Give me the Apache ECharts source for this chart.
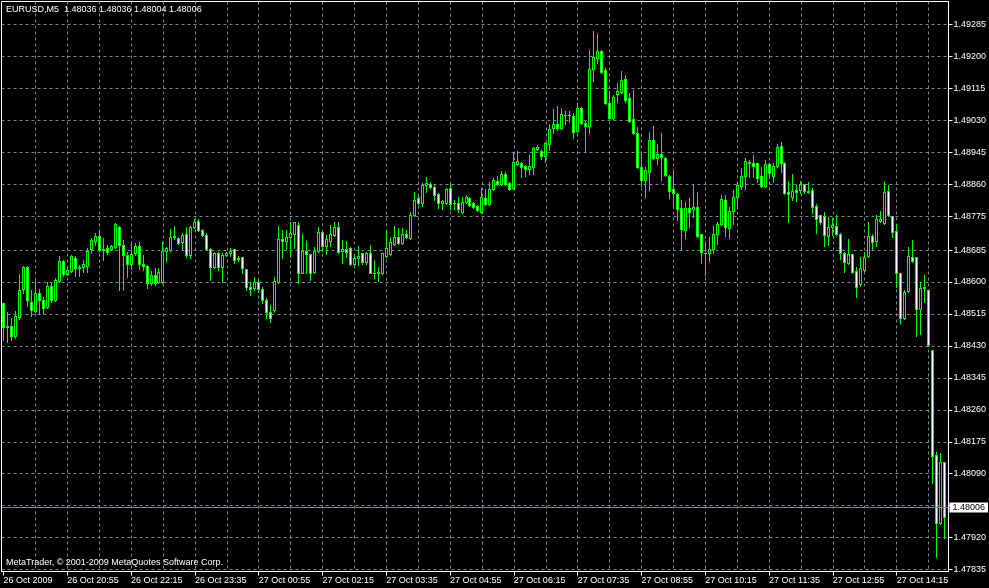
<!DOCTYPE html>
<html><head><meta charset="utf-8">
<script src="https://cdn.jsdelivr.net/npm/echarts@6/dist/echarts.min.js"></script>
<style>html,body{margin:0;padding:0;background:#000;}#c{width:989px;height:588px;}</style>
</head><body><div id="c"></div>
<script>
const symbolName = 'EURUSD,M5';
const lastBar = [1.48036, 1.48036, 1.48004, 1.48006]; // O H L C of current bar
const copyright = 'MetaTrader, \u00A9 2001-2009 MetaQuotes Software Corp.';
// time labels, one every 16 bars (5-minute bars from 26 Oct 2009 19:35)
const xTickLabels = ['26 Oct 2009','26 Oct 20:55','26 Oct 22:15','26 Oct 23:35','27 Oct 00:55','27 Oct 02:15','27 Oct 03:35','27 Oct 04:55','27 Oct 06:15','27 Oct 07:35','27 Oct 08:55','27 Oct 10:15','27 Oct 11:35','27 Oct 12:55','27 Oct 14:15'];
const yTickLabels = [1.47835,1.47920,1.48090,1.48175,1.48260,1.48345,1.48430,1.48515,1.48600,1.48685,1.48775,1.48860,1.48945,1.49030,1.49115,1.49200,1.49285];
const yGridValues = [1.47835,1.47920,1.48006,1.48090,1.48175,1.48260,1.48345,1.48430,1.48515,1.48600,1.48685,1.48775,1.48860,1.48945,1.49030,1.49115,1.49200,1.49285];

const opens = [1.48543,1.48482,1.48482,1.48455,1.48506,1.48580,1.48639,1.48545,1.48522,1.48569,
1.48551,1.48532,1.48588,1.48551,1.48601,1.48655,1.48620,1.48628,1.48663,1.48636,
1.48639,1.48641,1.48686,1.48708,1.48721,1.48684,1.48689,1.48686,1.48692,1.48745,
1.48697,1.48670,1.48647,1.48676,1.48694,1.48647,1.48641,1.48596,1.48617,1.48599,
1.48599,1.48681,1.48684,1.48718,1.48716,1.48705,1.48726,1.48670,1.48745,1.48761,
1.48737,1.48724,1.48686,1.48639,1.48676,1.48639,1.48670,1.48676,1.48686,1.48660,
1.48665,1.48633,1.48585,1.48583,1.48599,1.48580,1.48551,1.48519,1.48524,1.48599,
1.48713,1.48708,1.48718,1.48726,1.48750,1.48623,1.48681,1.48673,1.48625,1.48681,
1.48732,1.48694,1.48708,1.48724,1.48745,1.48681,1.48686,1.48689,1.48647,1.48663,
1.48676,1.48652,1.48676,1.48623,1.48623,1.48623,1.48668,1.48673,1.48700,1.48718,
1.48702,1.48726,1.48716,1.48777,1.48822,1.48809,1.48857,1.48859,1.48851,1.48833,
1.48809,1.48809,1.48849,1.48809,1.48809,1.48785,1.48811,1.48822,1.48809,1.48801,
1.48785,1.48822,1.48806,1.48846,1.48867,1.48859,1.48886,1.48862,1.48849,1.48913,
1.48915,1.48907,1.48899,1.48905,1.48952,1.48947,1.48934,1.48966,1.49008,1.49019,
1.49008,1.49043,1.49043,1.49040,1.49000,1.49062,1.49022,1.49014,1.49165,1.49195,
1.49213,1.49163,1.49075,1.49035,1.49099,1.49104,1.49139,1.49088,1.49032,1.48995,
1.48905,1.48870,1.48891,1.48976,1.48929,1.48939,1.48929,1.48881,1.48846,1.48833,
1.48796,1.48737,1.48796,1.48793,1.48798,1.48726,1.48676,1.48676,1.48686,1.48726,
1.48753,1.48817,1.48742,1.48788,1.48825,1.48854,1.48881,1.48918,1.48915,1.48915,
1.48881,1.48854,1.48913,1.48881,1.48907,1.48960,1.48915,1.48838,1.48825,1.48843,
1.48843,1.48859,1.48841,1.48843,1.48801,1.48777,1.48774,1.48721,1.48745,1.48748,
1.48726,1.48676,1.48649,1.48673,1.48628,1.48593,1.48631,1.48668,1.48721,1.48708,
1.48761,1.48756,1.48841,1.48774,1.48734,1.48623,1.48503,1.48575,1.48665,1.48665,
1.48527,1.48583,1.48577,1.48418,1.48138,1.47958,1.48120];

const highs = [1.48543,1.48519,1.48503,1.48522,1.48620,1.48641,1.48641,1.48577,1.48601,1.48580,
1.48559,1.48599,1.48596,1.48609,1.48668,1.48657,1.48636,1.48670,1.48668,1.48644,
1.48657,1.48689,1.48716,1.48729,1.48737,1.48716,1.48697,1.48697,1.48756,1.48748,
1.48710,1.48678,1.48705,1.48702,1.48705,1.48670,1.48644,1.48628,1.48636,1.48636,
1.48705,1.48692,1.48740,1.48748,1.48718,1.48729,1.48745,1.48748,1.48766,1.48766,
1.48740,1.48729,1.48689,1.48678,1.48678,1.48676,1.48678,1.48689,1.48686,1.48668,
1.48665,1.48633,1.48599,1.48612,1.48604,1.48585,1.48556,1.48537,1.48612,1.48748,
1.48737,1.48737,1.48758,1.48758,1.48758,1.48726,1.48708,1.48673,1.48692,1.48745,
1.48732,1.48724,1.48750,1.48758,1.48758,1.48710,1.48708,1.48692,1.48670,1.48694,
1.48676,1.48678,1.48697,1.48657,1.48639,1.48676,1.48737,1.48718,1.48748,1.48742,
1.48742,1.48737,1.48785,1.48838,1.48827,1.48862,1.48878,1.48865,1.48857,1.48835,
1.48817,1.48849,1.48859,1.48817,1.48825,1.48825,1.48830,1.48825,1.48811,1.48803,
1.48849,1.48846,1.48865,1.48875,1.48881,1.48894,1.48891,1.48865,1.48944,1.48947,
1.48918,1.48910,1.48936,1.48958,1.48963,1.48950,1.48971,1.49019,1.49059,1.49067,
1.49062,1.49054,1.49054,1.49048,1.49075,1.49064,1.49027,1.49216,1.49266,1.49258,
1.49216,1.49168,1.49107,1.49096,1.49128,1.49160,1.49149,1.49101,1.49109,1.49011,
1.48944,1.48905,1.48998,1.49014,1.48966,1.48995,1.48931,1.48883,1.48897,1.48835,
1.48817,1.48811,1.48822,1.48857,1.48838,1.48726,1.48705,1.48718,1.48748,1.48758,
1.48830,1.48830,1.48798,1.48843,1.48862,1.48902,1.48929,1.48923,1.48936,1.48915,
1.48905,1.48923,1.48915,1.48915,1.48966,1.48971,1.48918,1.48867,1.48886,1.48857,
1.48867,1.48859,1.48865,1.48849,1.48806,1.48777,1.48785,1.48772,1.48769,1.48777,
1.48729,1.48678,1.48713,1.48673,1.48639,1.48665,1.48678,1.48758,1.48726,1.48777,
1.48788,1.48867,1.48857,1.48774,1.48753,1.48623,1.48577,1.48692,1.48710,1.48665,
1.48599,1.48617,1.48577,1.48418,1.48146,1.48144,1.48120];

const lows = [1.48444,1.48439,1.48444,1.48450,1.48500,1.48569,1.48535,1.48508,1.48519,1.48516,
1.48514,1.48530,1.48545,1.48548,1.48599,1.48615,1.48617,1.48625,1.48615,1.48615,
1.48625,1.48625,1.48676,1.48697,1.48681,1.48657,1.48673,1.48684,1.48689,1.48577,
1.48577,1.48612,1.48633,1.48670,1.48633,1.48631,1.48583,1.48591,1.48591,1.48596,
1.48596,1.48655,1.48681,1.48713,1.48700,1.48686,1.48665,1.48663,1.48742,1.48734,
1.48721,1.48684,1.48604,1.48636,1.48631,1.48599,1.48668,1.48668,1.48649,1.48655,
1.48623,1.48577,1.48564,1.48577,1.48572,1.48543,1.48503,1.48492,1.48519,1.48596,
1.48663,1.48686,1.48665,1.48689,1.48596,1.48623,1.48623,1.48604,1.48623,1.48678,
1.48681,1.48673,1.48694,1.48721,1.48676,1.48649,1.48665,1.48644,1.48644,1.48644,
1.48647,1.48647,1.48623,1.48609,1.48601,1.48620,1.48665,1.48670,1.48697,1.48700,
1.48700,1.48716,1.48713,1.48774,1.48806,1.48801,1.48838,1.48849,1.48817,1.48796,
1.48793,1.48806,1.48793,1.48793,1.48785,1.48782,1.48809,1.48801,1.48796,1.48788,
1.48782,1.48803,1.48803,1.48843,1.48857,1.48857,1.48857,1.48843,1.48846,1.48910,
1.48878,1.48881,1.48886,1.48886,1.48950,1.48926,1.48918,1.48950,1.48995,1.49003,
1.49006,1.49019,1.49024,1.48982,1.48998,1.49019,1.48944,1.48995,1.49133,1.49181,
1.49155,1.49072,1.49032,1.49032,1.49077,1.49101,1.49077,1.49024,1.48992,1.48902,
1.48854,1.48825,1.48843,1.48926,1.48913,1.48870,1.48881,1.48822,1.48796,1.48764,
1.48686,1.48716,1.48745,1.48772,1.48718,1.48649,1.48617,1.48655,1.48676,1.48700,
1.48750,1.48721,1.48716,1.48753,1.48796,1.48846,1.48846,1.48878,1.48878,1.48865,
1.48851,1.48851,1.48875,1.48865,1.48905,1.48891,1.48833,1.48758,1.48817,1.48814,
1.48835,1.48835,1.48835,1.48782,1.48729,1.48753,1.48694,1.48697,1.48724,1.48724,
1.48660,1.48625,1.48647,1.48623,1.48559,1.48588,1.48628,1.48665,1.48686,1.48694,
1.48758,1.48753,1.48774,1.48718,1.48585,1.48490,1.48500,1.48572,1.48652,1.48455,
1.48460,1.48545,1.48428,1.48064,1.47867,1.47955,1.47918];

const closes = [1.48479,1.48479,1.48455,1.48508,1.48577,1.48639,1.48551,1.48524,1.48569,1.48551,
1.48530,1.48588,1.48551,1.48604,1.48655,1.48620,1.48631,1.48668,1.48636,1.48639,
1.48647,1.48681,1.48710,1.48721,1.48684,1.48686,1.48678,1.48694,1.48753,1.48697,
1.48670,1.48647,1.48673,1.48694,1.48647,1.48641,1.48596,1.48617,1.48596,1.48625,
1.48681,1.48689,1.48718,1.48721,1.48702,1.48724,1.48670,1.48745,1.48758,1.48737,
1.48724,1.48686,1.48639,1.48676,1.48639,1.48670,1.48676,1.48681,1.48657,1.48663,
1.48636,1.48585,1.48580,1.48599,1.48580,1.48551,1.48519,1.48503,1.48601,1.48713,
1.48708,1.48718,1.48729,1.48758,1.48623,1.48681,1.48673,1.48623,1.48681,1.48732,
1.48694,1.48713,1.48726,1.48745,1.48678,1.48686,1.48678,1.48647,1.48663,1.48668,
1.48652,1.48676,1.48623,1.48622,1.48625,1.48676,1.48689,1.48705,1.48718,1.48702,
1.48726,1.48718,1.48777,1.48817,1.48809,1.48857,1.48862,1.48851,1.48830,1.48809,
1.48814,1.48846,1.48806,1.48808,1.48793,1.48811,1.48825,1.48803,1.48798,1.48790,
1.48825,1.48806,1.48846,1.48870,1.48859,1.48886,1.48859,1.48846,1.48918,1.48921,
1.48905,1.48899,1.48907,1.48955,1.48958,1.48934,1.48968,1.49006,1.49019,1.49008,
1.49046,1.49042,1.49043,1.48998,1.49062,1.49022,1.49014,1.49165,1.49197,1.49213,
1.49157,1.49075,1.49035,1.49091,1.49107,1.49136,1.49083,1.49027,1.48995,1.48905,
1.48870,1.48897,1.48976,1.48929,1.48939,1.48931,1.48883,1.48841,1.48835,1.48793,
1.48740,1.48796,1.48785,1.48798,1.48721,1.48678,1.48675,1.48686,1.48726,1.48753,
1.48819,1.48745,1.48788,1.48825,1.48857,1.48881,1.48921,1.48915,1.48907,1.48875,
1.48854,1.48913,1.48889,1.48907,1.48958,1.48915,1.48835,1.48833,1.48841,1.48838,
1.48859,1.48841,1.48838,1.48798,1.48766,1.48758,1.48724,1.48745,1.48750,1.48726,
1.48676,1.48652,1.48673,1.48625,1.48585,1.48636,1.48665,1.48721,1.48705,1.48766,
1.48766,1.48838,1.48777,1.48732,1.48623,1.48503,1.48572,1.48668,1.48655,1.48527,
1.48583,1.48585,1.48431,1.48136,1.47958,1.48120,1.47974];

const LIME = '#00ff00';
const GRID_COLOR = '#778899';
const FONT = 'Liberation Sans';
const barCount = opens.length;
const labelBars = xTickLabels.map((_, k) => k * 16);
const gridBars = [];
for (let b = 8; b < barCount; b += 8) gridBars.push(b);
const seriesData = opens.map((o, i) => [i, o, highs[i], lows[i], closes[i]]);

function renderCandle(params, api) {
  const i = api.value(0), o = api.value(1), h = api.value(2), l = api.value(3), c = api.value(4);
  const cx = Math.floor(api.coord([i, o])[0]);
  const yO = Math.floor(api.coord([i, o])[1]);
  const yC = Math.floor(api.coord([i, c])[1]);
  const yH = Math.floor(api.coord([i, h])[1]);
  const yL = Math.floor(api.coord([i, l])[1]);
  const top = Math.min(yO, yC), bot = Math.max(yO, yC);
  const kids = [
    {type: 'rect', shape: {x: cx, y: yH, width: 1, height: yL - yH + 1}, style: {fill: LIME}},
    {type: 'rect', shape: {x: cx - 1, y: top, width: 3, height: bot - top + 1}, style: {fill: LIME}}
  ];
  if (bot - top >= 2) {
    kids.push({type: 'rect', shape: {x: cx, y: top + 1, width: 1, height: bot - top - 1}, style: {fill: c >= o ? '#000' : '#fff'}});
  }
  return {type: 'group', children: kids};
}

const chart = echarts.init(document.getElementById('c'), null, {renderer: 'canvas'});
chart.setOption({
  animation: false,
  backgroundColor: '#000',
  textStyle: {fontFamily: FONT},
  grid: {left: 1.5, top: 1.5, width: 950, height: 570, show: true, borderColor: '#fff', borderWidth: 1, backgroundColor: '#000'},
  xAxis: [{
    type: 'value', min: -0.5, max: 237, position: 'bottom',
    axisLine: {show: true, onZero: false, lineStyle: {color: '#fff', width: 1}},
    axisTick: {show: true, customValues: labelBars, length: 4, lineStyle: {color: '#fff'}},
    axisLabel: {customValues: labelBars, formatter: (v) => xTickLabels[Math.round(v / 16)] || '', color: '#fff', fontSize: 9, fontFamily: FONT, align: 'left', margin: 5},
    splitLine: {show: false}
  }, {
    type: 'value', min: -0.5, max: 237, position: 'bottom',
    axisLine: {show: false}, axisLabel: {show: false},
    axisTick: {show: false, customValues: gridBars},
    splitLine: {show: true, lineStyle: {color: GRID_COLOR, type: [3, 3], width: 1}}
  }],
  yAxis: {
    type: 'value', position: 'right', min: 1.478299, max: 1.493461, scale: true,
    axisLine: {show: true, onZero: false, lineStyle: {color: '#fff', width: 1}},
    axisTick: {show: true, customValues: yGridValues, length: 4, lineStyle: {color: '#fff'}},
    axisLabel: {customValues: yTickLabels, formatter: (v) => v.toFixed(5), color: '#fff', fontSize: 9, fontFamily: FONT, margin: 5},
    splitLine: {show: true, lineStyle: {color: GRID_COLOR, type: [3, 3], width: 1}}
  },
  graphic: [
    {type: 'text', left: 6, top: 5, z: 100, style: {text: symbolName + '  ' + lastBar.map(v => v.toFixed(5)).join(' '), fill: '#fff', font: '9px ' + FONT}},
    {type: 'text', left: 6, top: 558, z: 100, style: {text: copyright, fill: '#fff', font: '9px ' + FONT}}
  ],
  series: [{
    type: 'custom', xAxisIndex: 0, yAxisIndex: 0, data: seriesData, clip: true,
    encode: {x: 0, y: [1, 2, 3, 4]},
    renderItem: renderCandle,
    markLine: {
      silent: true, symbol: 'none', animation: false,
      data: [{yAxis: lastBar[3]}],
      lineStyle: {color: GRID_COLOR, type: 'solid', width: 1},
      label: {show: true, position: 'end', distance: 1, formatter: () => lastBar[3].toFixed(5), color: '#000', backgroundColor: '#fff', padding: [1, 3, 0, 3], fontSize: 9, fontFamily: FONT}
    }
  }]
});
</script>
</body></html>
